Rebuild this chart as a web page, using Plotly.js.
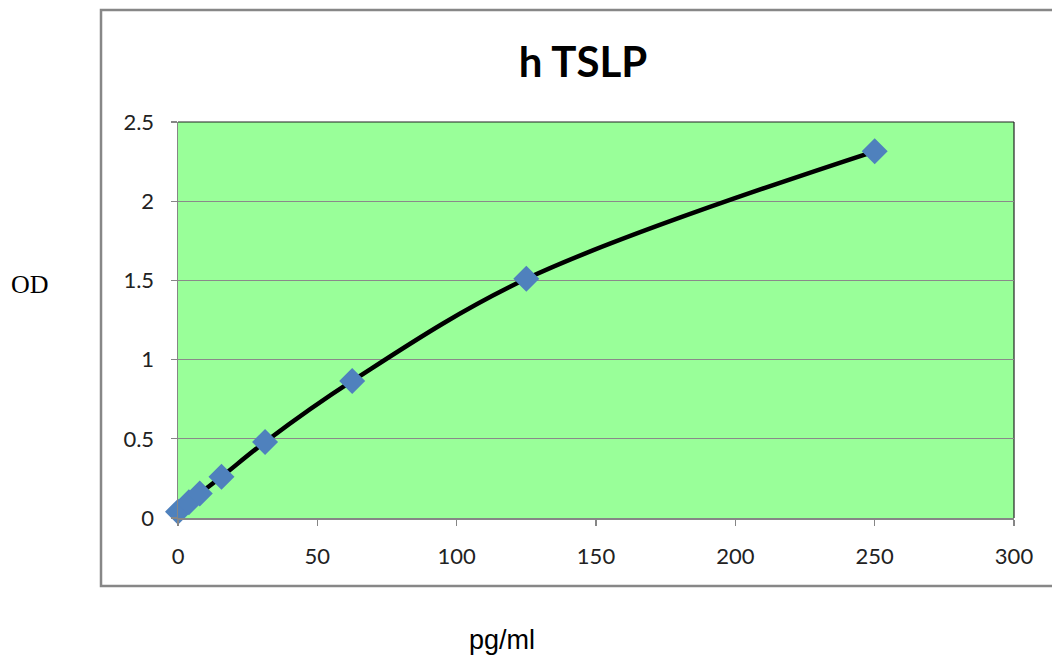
<!DOCTYPE html>
<html>
<head>
<meta charset="utf-8">
<script src="https://cdn.plot.ly/plotly-3.0.1.min.js"></script>
<style>html,body{margin:0;padding:0;background:#fff;}#chart{width:1052px;height:655px;}</style>
</head>
<body>
<div id="chart"></div>
<script>
const concentration = [0, 3.9, 7.8, 15.6, 31.25, 62.5, 125, 250];
const od = [0.04, 0.10, 0.155, 0.26, 0.48, 0.865, 1.51, 2.315];
const xTicks = [0, 50, 100, 150, 200, 250, 300];
const yTicks = [0, 0.5, 1, 1.5, 2, 2.5];
const yTickText = ['0', '0.5', '1', '1.5', '2', '2.5'];

const traces = [{
  x: concentration,
  y: od,
  type: 'scatter',
  mode: 'lines+markers',
  cliponaxis: false,
  line: {color: '#000000', width: 4.5, shape: 'spline', smoothing: 1},
  marker: {symbol: 'diamond', size: 20, color: '#4F81BD', line: {width: 0}},
  hoverinfo: 'x+y'
}];

const tickFont = {family: 'Lato, "Open Sans", sans-serif', size: 22, color: '#222'};

const layout = {
  width: 1052, height: 655,
  margin: {l: 178, r: 38, t: 122, b: 137},
  paper_bgcolor: '#ffffff',
  plot_bgcolor: '#99FF99',
  showlegend: false,
  title: {text: '<b>h TSLP</b>', font: {family: 'Lato, "Open Sans", sans-serif', size: 42, color: '#000'},
          xref: 'container', x: 583 / 1052, xanchor: 'center', yref: 'container', y: 1 - 62 / 655, yanchor: 'middle'},
  xaxis: {
    range: [0, 300], tickvals: xTicks, ticktext: xTicks.map(String),
    showgrid: false, zeroline: false,
    showline: true, linecolor: '#868686', linewidth: 1.5,
    ticks: 'outside', ticklen: 6, tickcolor: '#868686', tickwidth: 1.2,
    tickfont: tickFont,
    ticklabelstandoff: 12
  },
  yaxis: {
    range: [0, 2.5], tickvals: yTicks, ticktext: yTickText,
    showgrid: true, gridcolor: '#8a8a8a', gridwidth: 1,
    zeroline: false,
    showline: true, linecolor: '#868686', linewidth: 1.5,
    ticks: 'outside', ticklen: 6, tickcolor: '#868686', tickwidth: 1.2,
    tickfont: tickFont,
    ticklabelstandoff: 12
  },
  shapes: [
    {type: 'rect', xref: 'paper', yref: 'paper', x0: -0.0921, x1: 1.06, y0: -0.1717, y1: 1.2828,
     line: {color: '#878787', width: 2.5}, fillcolor: 'rgba(0,0,0,0)', layer: 'below'},
    {type: 'line', xref: 'paper', yref: 'paper', x0: 0, x1: 1, y0: 1, y1: 1, line: {color: '#222', width: 1.2}, layer: 'below'},
    {type: 'line', xref: 'paper', yref: 'paper', x0: 1, x1: 1, y0: 0, y1: 1, line: {color: '#222', width: 1.2}, layer: 'below'}
  ],
  annotations: [
    {text: 'OD', xref: 'paper', yref: 'paper', x: (30 - 178) / 836, y: (518 - 284) / 396, xanchor: 'center', yanchor: 'middle',
     showarrow: false, font: {family: '"Liberation Serif", "Times New Roman", serif', size: 26, color: '#000'}},
    {text: 'pg/ml', xref: 'paper', yref: 'paper', x: (502 - 178) / 836, y: (518 - 640) / 396, xanchor: 'center', yanchor: 'middle',
     showarrow: false, font: {family: '"Liberation Sans", Arial, sans-serif', size: 27, color: '#000'}}
  ]
};

Plotly.newPlot('chart', traces, layout, {displayModeBar: false, staticPlot: true});
</script>
</body>
</html>
